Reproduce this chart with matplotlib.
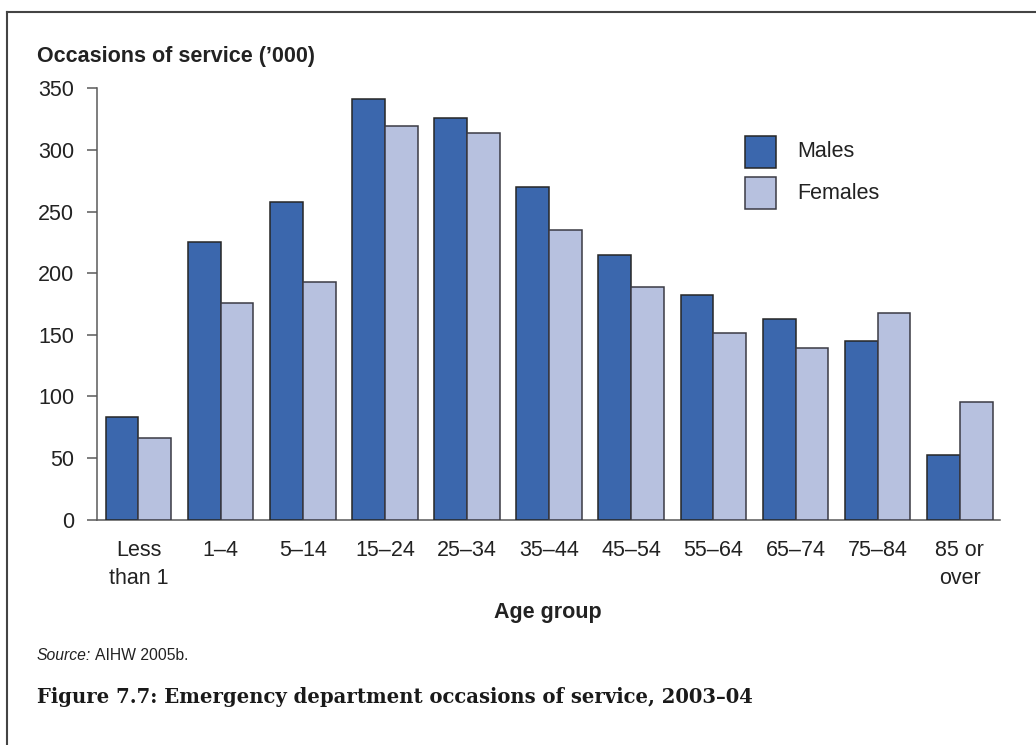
#!/usr/bin/env python3
"""
Emergency department occasions of service by age group and sex, 2003-04.
"""

import matplotlib
matplotlib.use("Agg")
import matplotlib.pyplot as plt
from matplotlib.lines import Line2D
from matplotlib.patches import Rectangle
import numpy as np


AGE_GROUPS = [
    "Less\nthan 1", "1\u20134", "5\u201314", "15\u201324", "25\u201334", "35\u201344",
    "45\u201354", "55\u201364", "65\u201374", "75\u201384", "85 or\nover",
]
MALES = [83, 225, 258, 341, 326, 270, 215, 182, 163, 145, 52]
FEMALES = [66, 176, 193, 319, 314, 235, 189, 151, 139, 168, 95]
Y_TICKS = [0, 50, 100, 150, 200, 250, 300, 350]

MALE_BLUE = "#3B67AD"
FEMALE_BLUE = "#B7C1DF"
MALE_EDGE = "#262626"
FEMALE_EDGE = "#3A3A44"
AXIS_GRAY = "#5A5A5A"
TEXT_DARK = "#222222"

W, H = 1036, 745
FS = 15.5


def fx(px: float) -> float:
    return px / W


def fy(py: float) -> float:
    return 1 - py / H


def main() -> None:
    plt.rcParams["font.family"] = ["Liberation Sans", "DejaVu Sans"]

    fig = plt.figure(figsize=(W / 100, H / 100), dpi=100)
    fig.patch.set_facecolor("white")

    ax = fig.add_axes([fx(97), fy(519.5), (1000 - 97) / W, (519.5 - 88.3) / H])

    x = np.arange(len(AGE_GROUPS))
    width = 0.40
    ax.bar(x - width / 2, MALES, width, color=MALE_BLUE, edgecolor=MALE_EDGE,
           linewidth=1.1, zorder=3)
    ax.bar(x + width / 2, FEMALES, width, color=FEMALE_BLUE, edgecolor=FEMALE_EDGE,
           linewidth=1.1, zorder=3)

    ax.set_xlim(-0.505, len(AGE_GROUPS) - 0.51)
    ax.set_ylim(0, 350)
    ax.set_yticks(Y_TICKS)
    ax.set_xticks(x)
    ax.set_xticklabels(AGE_GROUPS, fontsize=FS, color=TEXT_DARK, linespacing=1.4)
    ax.tick_params(axis="y", direction="out", length=7.5, width=1.1, color=AXIS_GRAY,
                   labelsize=FS, labelcolor=TEXT_DARK, pad=9)
    ax.tick_params(axis="x", length=0, pad=15)

    for side in ("top", "right"):
        ax.spines[side].set_visible(False)
    for side in ("left", "bottom"):
        ax.spines[side].set_color(AXIS_GRAY)
        ax.spines[side].set_linewidth(1.1)

    fig.text(fx(548), fy(618), "Age group", fontsize=FS, fontweight="bold",
             color=TEXT_DARK, ha="center", va="baseline")
    fig.text(fx(37), fy(61.7), "Occasions of service (\u2019000)", fontsize=FS,
             fontweight="bold", color=TEXT_DARK, ha="left", va="baseline")

    # legend keys drawn as plain boxes with labels beside them
    for top, color, edge, label in [(135.7, MALE_BLUE, MALE_EDGE, "Males"),
                                    (177.3, FEMALE_BLUE, FEMALE_EDGE, "Females")]:
        fig.add_artist(Rectangle((fx(745), fy(top + 32)), 31 / W, 32 / H,
                                 transform=fig.transFigure, facecolor=color,
                                 edgecolor=edge, linewidth=1.1))
        fig.text(fx(797), fy(top + 16), label, fontsize=FS, color=TEXT_DARK,
                 ha="left", va="center")

    # source note: italic lead-in, then the reference
    src = fig.text(fx(37), fy(660), "Source:", fontsize=11.3, style="italic",
                   color=TEXT_DARK, ha="left", va="baseline")
    fig.canvas.draw()
    bb = src.get_window_extent()
    fig.text((bb.x1 + 4) / W, fy(660), "AIHW 2005b.", fontsize=11.3,
             color=TEXT_DARK, ha="left", va="baseline")

    fig.text(fx(37), fy(703), "Figure 7.7: Emergency department occasions of service, 2003\u201304",
             fontsize=14.1, fontweight="bold", family=["DejaVu Serif"],
             color="#1A1A1A", ha="left", va="baseline")

    # outer frame: left and top rules
    fig.add_artist(Line2D([fx(7), fx(7)], [0, fy(12)], transform=fig.transFigure,
                          color="#444444", linewidth=1.5))
    fig.add_artist(Line2D([fx(7), 1], [fy(12), fy(12)], transform=fig.transFigure,
                          color="#444444", linewidth=1.5))

    fig.savefig("out.png", dpi=100, facecolor="white")
    plt.close(fig)


if __name__ == "__main__":
    main()
